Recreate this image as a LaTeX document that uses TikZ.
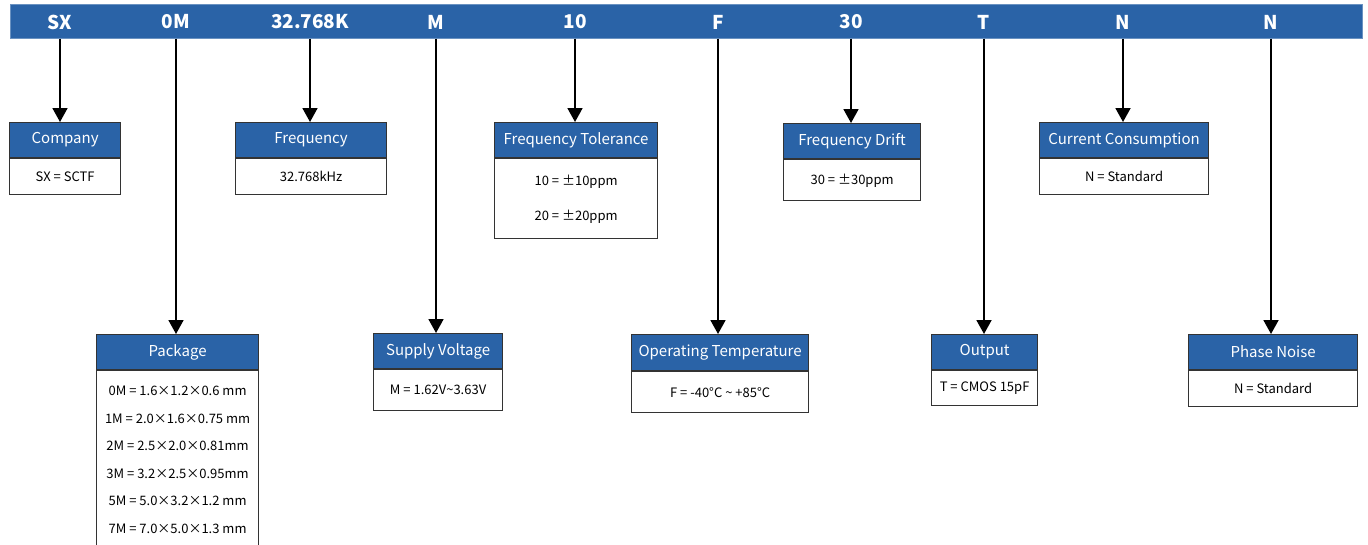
\documentclass[tikz,border=0pt]{standalone}
\usepackage{fontspec}
\setmainfont{Noto Sans CJK SC}
\usetikzlibrary{arrows.meta}
\definecolor{hblue}{HTML}{2A63A7}
\definecolor{edge}{HTML}{333333}
\tikzset{
  hdr/.style={draw=edge, line width=1.2pt, fill=hblue, text=white, inner sep=0pt, font=\fontsize{15}{18}\selectfont},
  bdy/.style={draw=edge, line width=1.2pt, fill=white, inner sep=0pt, align=center, font=\fontsize{13}{16}\selectfont},
  lbl/.style={text=white, inner sep=0pt, font=\bfseries\fontsize{19}{22}\selectfont},
  arr/.style={line width=1.8pt, -{Triangle[width=15pt,length=14pt]}},
}
\newcommand\pbox[8]{%
  \node[hdr, anchor=north west, minimum width=#4pt, minimum height=#5pt] (#1) at (#2,#3) {#7};
  \node[bdy, anchor=north, minimum width=#4pt, minimum height=#6pt] (#1b) at (#1.south) {#8};
}
\begin{document}
\begin{tikzpicture}[x=1pt,y=-1pt]
\useasboundingbox (0,0) rectangle (1368,544);
\node[fill=hblue, draw=hblue!70!white, line width=0.6pt, anchor=north west, minimum width=1352pt, minimum height=34pt, inner sep=0pt] (banner) at (10,4) {};
\foreach \n/\x/\t in {l1/60/SX, l2/176/0M, l3/310/32.768K, l4/436/M, l5/575/10, l6/718/F, l7/851/30, l8/984/T, l9/1123/N, l10/1271/N}
  \node[lbl] (\n) at (\x,22) {\t};

\pbox{company}{9}{122}{111}{35}{36}{Company}{SX = SCTF}
\pbox{freq}{235}{122}{151}{35}{36}{Frequency}{32.768kHz}
\pbox{tol}{494}{122}{163}{35}{80}{Frequency Tolerance}{10 = ±10ppm\\[19pt]20 = ±20ppm}
\pbox{drift}{783}{123}{137}{35}{41}{Frequency Drift}{30 = ±30ppm}
\pbox{curr}{1039}{122}{169}{35}{36}{Current Consumption}{N = Standard}
\pbox{pack}{96}{334}{162}{35}{178}{Package}{0M = 1.6×1.2×0.6 mm\\[11.6pt]1M = 2.0×1.6×0.75 mm\\[11.6pt]2M = 2.5×2.0×0.81mm\\[11.6pt]3M = 3.2×2.5×0.95mm\\[11.6pt]5M = 5.0×3.2×1.2 mm\\[11.6pt]7M = 7.0×5.0×1.3 mm}
\pbox{supply}{373}{333}{129}{35}{41}{Supply Voltage}{M = 1.62V\textasciitilde3.63V}
\pbox{oper}{631}{334}{177}{36}{41}{Operating Temperature}{F = -40°C \textasciitilde{} +85°C}
\pbox{outp}{931}{334}{106}{35}{35}{Output}{T = CMOS 15pF}
\pbox{phase}{1188}{334}{169}{35}{36}{Phase Noise}{N = Standard}

\draw[arr] (l1 |- banner.south) -- (l1 |- company.north);
\draw[arr] (l2 |- banner.south) -- (l2 |- pack.north);
\draw[arr] (l3 |- banner.south) -- (l3 |- freq.north);
\draw[arr] (l4 |- banner.south) -- (l4 |- supply.north);
\draw[arr] (l5 |- banner.south) -- (l5 |- tol.north);
\draw[arr] (l6 |- banner.south) -- (l6 |- oper.north);
\draw[arr] (l7 |- banner.south) -- (l7 |- drift.north);
\draw[arr] (l8 |- banner.south) -- (l8 |- outp.north);
\draw[arr] (l9 |- banner.south) -- (l9 |- curr.north);
\draw[arr] (l10 |- banner.south) -- (l10 |- phase.north);
\end{tikzpicture}
\end{document}
